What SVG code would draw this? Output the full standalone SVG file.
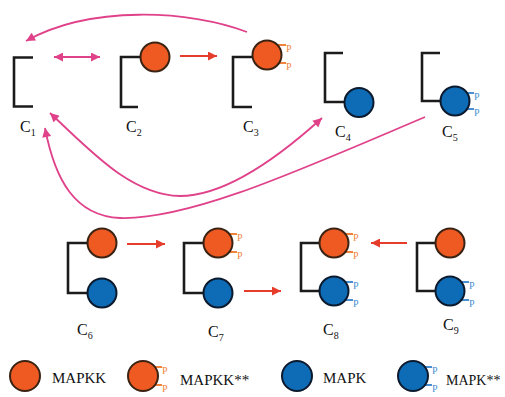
<svg xmlns="http://www.w3.org/2000/svg" width="505" height="397" viewBox="0 0 505 397">
<defs>
<style>
.br{fill:none;stroke:#1b1b1b;stroke-width:2.6}
.mk{fill:#ee5a22;stroke:#3b2313;stroke-width:2}
.mp{fill:#0e6bb6;stroke:#0c1a2e;stroke-width:2}
.to{stroke:#f0833e;stroke-width:1.8;fill:none}
.tb{stroke:#4a8fd2;stroke-width:1.8;fill:none}
.po{fill:#f0833e;font-family:"Liberation Serif",serif;font-size:10px}
.pb{fill:#4a8fd2;font-family:"Liberation Serif",serif;font-size:10px}
.lbl{font-family:"Liberation Serif",serif;font-size:16px;fill:#111}
.sub{font-size:10px}
.leg{font-family:"Liberation Serif",serif;font-size:15px;fill:#111}
.pink{fill:none;stroke:#e0428a;stroke-width:1.8}
.red{fill:none;stroke:#e63c2c;stroke-width:2.2}
</style>
<marker id="ap" viewBox="0 0 10 10" refX="10" refY="5" markerWidth="10" markerHeight="9" markerUnits="userSpaceOnUse" orient="auto-start-reverse"><path d="M0,0 L10,5 L0,10 z" fill="#e0428a"/></marker>
<marker id="ar" viewBox="0 0 10 10" refX="10" refY="5" markerWidth="10" markerHeight="9" markerUnits="userSpaceOnUse" orient="auto"><path d="M0,0 L10,5 L0,10 z" fill="#e63c2c"/></marker>
</defs>
<rect width="505" height="397" fill="#fff"/>

<g id="connectors">
<path class="pink" d="M247,32 C190,10 90,5 26,41" marker-end="url(#ap)"/>
<path class="pink" d="M54,57 H100" marker-start="url(#ap)" marker-end="url(#ap)"/>
<path class="red" d="M180,56 H217" marker-end="url(#ar)"/>
<path class="pink" d="M50,113 C90,150 130,195 180,196 C220,196 270,165 322,118" marker-start="url(#ap)" marker-end="url(#ap)"/>
<path class="pink" d="M425,117 C300,170 190,220 120,218 C75,216 55,180 45,128" marker-end="url(#ap)"/>
<path class="red" d="M127,244 H165" marker-end="url(#ar)"/>
<path class="red" d="M244,291 H281" marker-end="url(#ar)"/>
<path class="red" d="M407,243 H371" marker-end="url(#ar)"/>
</g>

<g id="C1">
<path class="br" d="M33,57.5 H14 V106.5 H33"/>
<text class="lbl" x="20" y="132">C<tspan class="sub" dy="4">1</tspan></text>
</g>

<g id="C2">
<path class="br" d="M141,57 H121 V107 H138"/>
<circle class="mk" cx="155" cy="57" r="14.5"/>
<text class="lbl" x="126" y="132">C<tspan class="sub" dy="4">2</tspan></text>
</g>

<g id="C3">
<path class="br" d="M253,57 H233 V107 H252"/>
<path class="to" d="M277,45 H286 M277,63 H286"/>
<circle class="mk" cx="267" cy="55" r="14.5"/>
<text class="po" x="286" y="52">P</text>
<text class="po" x="286" y="70">P</text>
<text class="lbl" x="243" y="132">C<tspan class="sub" dy="4">3</tspan></text>
</g>

<g id="C4">
<path class="br" d="M343,53 H325 V102 H345"/>
<circle class="mp" cx="359" cy="102.5" r="14.5"/>
<text class="lbl" x="335" y="137">C<tspan class="sub" dy="4">4</tspan></text>
</g>

<g id="C5">
<path class="br" d="M440,53 H422 V101 H441"/>
<path class="tb" d="M465,93 H474 M465,109 H474"/>
<circle class="mp" cx="455" cy="101" r="14.5"/>
<text class="pb" x="474" y="100">P</text>
<text class="pb" x="474" y="116">P</text>
<text class="lbl" x="442" y="137">C<tspan class="sub" dy="4">5</tspan></text>
</g>

<g id="C6">
<path class="br" d="M88,243 H68 V293 H88"/>
<circle class="mk" cx="102" cy="243" r="14.5"/>
<circle class="mp" cx="102" cy="293" r="14.5"/>
<text class="lbl" x="77" y="335">C<tspan class="sub" dy="4">6</tspan></text>
</g>

<g id="C7">
<path class="br" d="M204,243 H184 V293 H204"/>
<path class="to" d="M228,234 H237 M228,252 H237"/>
<circle class="mk" cx="218" cy="243" r="14.5"/>
<circle class="mp" cx="218" cy="293" r="14.5"/>
<text class="po" x="237" y="241">P</text>
<text class="po" x="237" y="259">P</text>
<text class="lbl" x="208" y="337">C<tspan class="sub" dy="4">7</tspan></text>
</g>

<g id="C8">
<path class="br" d="M320,243 H301 V291 H320"/>
<path class="to" d="M344,234 H353 M344,252 H353"/>
<path class="tb" d="M344,282 H353 M344,300 H353"/>
<circle class="mk" cx="334" cy="243" r="14.5"/>
<circle class="mp" cx="334" cy="291" r="14.5"/>
<text class="po" x="353" y="241">P</text>
<text class="po" x="353" y="259">P</text>
<text class="pb" x="353" y="289">P</text>
<text class="pb" x="353" y="307">P</text>
<text class="lbl" x="323" y="335">C<tspan class="sub" dy="4">8</tspan></text>
</g>

<g id="C9">
<path class="br" d="M436,243 H417 V291 H436"/>
<path class="tb" d="M460,282 H469 M460,300 H469"/>
<circle class="mk" cx="450" cy="243" r="14.5"/>
<circle class="mp" cx="450" cy="291" r="14.5"/>
<text class="pb" x="469" y="289">P</text>
<text class="pb" x="469" y="307">P</text>
<text class="lbl" x="443" y="330">C<tspan class="sub" dy="4">9</tspan></text>
</g>

<g id="legend">
<circle class="mk" cx="25" cy="376" r="15"/>
<text class="leg" x="52" y="383">MAPKK</text>
<path class="to" d="M153,367 H162 M153,385 H162"/>
<circle class="mk" cx="143" cy="376" r="15"/>
<text class="po" x="162" y="374">P</text>
<text class="po" x="162" y="392">P</text>
<text class="leg" x="180" y="385">MAPKK**</text>
<circle class="mp" cx="297" cy="376" r="15"/>
<text class="leg" x="323" y="383">MAPK</text>
<path class="tb" d="M423,367 H432 M423,385 H432"/>
<circle class="mp" cx="413" cy="376" r="15"/>
<text class="pb" x="432" y="374">P</text>
<text class="pb" x="432" y="392">P</text>
<text class="leg" x="446" y="385" style="font-size:14px">MAPK**</text>
</g>
</svg>
